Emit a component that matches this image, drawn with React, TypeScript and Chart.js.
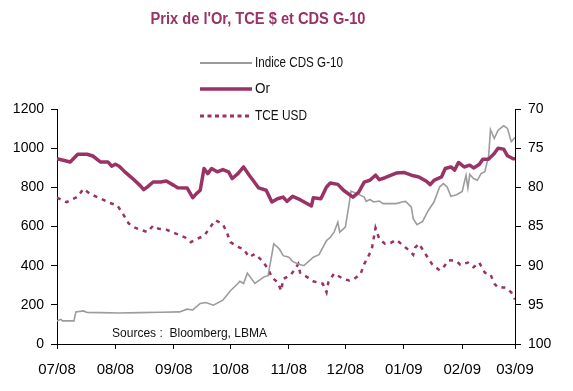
import React, { useEffect, useRef } from 'react';
import { Chart, registerables } from 'chart.js';

Chart.register(...registerables);

// ---- Data ----
const monthDays = [0, 31, 62, 92, 123, 153, 184, 215, 243];
const monthLabels = ['07/08', '08/08', '09/08', '10/08', '11/08', '12/08', '01/09', '02/09', '03/09'];

const titleText = "Prix de l'Or, TCE $ et CDS G-10";
const sourceText = 'Sources :  Bloomberg, LBMA';
const seriesNames = ['Indice CDS G-10', 'Or', 'TCE USD'];

// Or (gold price, left axis), x = days since 1 July 2008
const orDays = [0, 7, 11, 16, 19, 23, 27, 29, 31, 33, 36, 40, 44, 46, 48, 51, 55, 58, 62, 64, 69, 72, 74, 76, 78, 80, 82, 85, 88, 91, 93, 96, 99, 102, 104, 107, 111, 114, 117, 120, 122, 125, 129, 135, 136, 140, 143, 145, 149, 152, 157, 160, 163, 166, 169, 171, 174, 180, 184, 188, 192, 196, 198, 200, 204, 206, 209, 211, 213, 216, 219, 221, 224, 226, 229, 232, 234, 237, 239, 242, 243];
const orValues = [946, 929, 969, 969, 960, 930, 930, 908, 918, 908, 879, 846, 810, 788, 802, 827, 827, 832, 810, 798, 797, 747, 768, 785, 896, 870, 896, 879, 891, 879, 845, 870, 904, 862, 836, 797, 785, 725, 742, 750, 728, 754, 737, 705, 747, 742, 802, 822, 815, 785, 750, 774, 827, 836, 862, 839, 849, 873, 876, 862, 853, 831, 814, 836, 853, 896, 904, 888, 927, 904, 913, 899, 917, 944, 944, 973, 1000, 995, 961, 946, 946];

// Indice CDS G-10 (left axis)
const cdsDays = [0, 2, 3, 9, 10, 14, 16, 23, 33, 44, 55, 65, 69, 72, 76, 79, 83, 88, 92, 96, 97, 99, 101, 105, 110, 112, 115, 118, 120, 123, 125, 128, 131, 136, 139, 143, 145, 147, 149, 150, 153, 155, 156, 160, 163, 164, 166, 168, 171, 173, 180, 183, 185, 188, 189, 191, 194, 197, 200, 203, 205, 207, 209, 212, 215, 217, 218, 219, 221, 223, 225, 227, 229, 230, 232, 234, 237, 239, 241, 243];
const cdsValues = [118, 126, 118, 118, 164, 169, 161, 160, 158, 160, 162, 164, 178, 174, 207, 212, 198, 224, 272, 309, 320, 309, 362, 309, 344, 349, 511, 485, 451, 443, 422, 409, 400, 443, 456, 528, 545, 571, 622, 571, 597, 717, 781, 764, 750, 728, 738, 725, 730, 717, 717, 725, 728, 699, 640, 609, 626, 682, 725, 802, 819, 802, 754, 762, 779, 862, 797, 866, 845, 836, 870, 880, 960, 1095, 1049, 1092, 1114, 1101, 1033, 1054];

// TCE USD (right axis, reversed)
const tceDays = [0, 5, 11, 14, 18, 23, 28, 32, 35, 38, 40, 44, 48, 51, 54, 58, 63, 68, 71, 74, 78, 81, 84, 88, 90, 92, 96, 99, 102, 105, 109, 112, 114, 117, 119, 120, 124, 128, 129, 133, 136, 141, 143, 144, 147, 152, 155, 157, 161, 163, 165, 167, 169, 171, 174, 177, 180, 183, 187, 189, 190, 192, 196, 199, 203, 205, 208, 212, 214, 218, 221, 224, 227, 230, 232, 234, 238, 241, 243];
const tceValues = [81.3, 81.9, 81.2, 80.2, 80.9, 81.4, 82.0, 82.3, 83.4, 84.6, 85.0, 85.4, 85.7, 84.9, 85.3, 85.4, 85.9, 86.4, 87.0, 86.6, 86.2, 85.2, 84.2, 84.7, 85.7, 87.0, 87.6, 87.9, 88.9, 88.5, 89.4, 90.4, 91.5, 92.1, 93.2, 91.7, 91.2, 89.8, 90.9, 91.5, 92.0, 92.3, 93.4, 92.1, 91.0, 91.7, 91.9, 91.8, 91.1, 89.8, 88.9, 87.9, 85.2, 86.6, 87.2, 87.1, 86.7, 87.3, 88.1, 88.6, 87.7, 87.2, 88.7, 89.8, 90.6, 90.2, 89.3, 89.4, 89.9, 89.6, 90.2, 89.6, 90.9, 91.1, 92.3, 92.8, 92.8, 93.4, 94.3];

// ---- Styles ----
const PLUM = '#993366';
const GREY = '#9c9c9c';
const REG = "'Liberation Sans', Arial, sans-serif";

const W = 573;
const H = 391;
const AREA = { left: 57, right: 515, top: 109, bottom: 344 };

const zip = (xs: number[], ys: number[]) => xs.map((x, i) => ({ x, y: ys[i] }));

// draw text horizontally condensed to a target width (narrow font look)
function narrowText(ctx: CanvasRenderingContext2D, text: string, x: number, y: number, targetW: number, align: 'left' | 'center') {
  const w = ctx.measureText(text).width;
  const sx = Math.min(1, targetW / w);
  ctx.save();
  ctx.translate(x, y);
  ctx.scale(sx, 1);
  ctx.textAlign = align;
  ctx.fillText(text, 0, 0);
  ctx.restore();
}

const overlayPlugin = {
  id: 'overlay',
  afterDraw(chart: any) {
    const ctx = chart.ctx as CanvasRenderingContext2D;
    ctx.save();
    ctx.textBaseline = 'middle';
    // title
    ctx.fillStyle = PLUM;
    ctx.font = `bold 16px ${REG}`;
    narrowText(ctx, titleText, 258, 20, 215, 'center');

    // legend
    const rows = [
      { label: seriesNames[0], color: GREY, width: 2, dash: [] as number[], y: 63, tw: 88 },
      { label: seriesNames[1], color: PLUM, width: 3.5, dash: [] as number[], y: 89, tw: 15 },
      { label: seriesNames[2], color: PLUM, width: 3, dash: [4, 3.5], y: 116, tw: 52 },
    ];
    rows.forEach((r) => {
      ctx.beginPath();
      ctx.strokeStyle = r.color;
      ctx.lineWidth = r.width;
      ctx.setLineDash(r.dash);
      ctx.moveTo(200, r.y);
      ctx.lineTo(252, r.y);
      ctx.stroke();
      ctx.setLineDash([]);
      ctx.fillStyle = '#111';
      ctx.font = `14px ${REG}`;
      narrowText(ctx, r.label, 255, r.y, r.tw, 'left');
    });

    // sources
    ctx.fillStyle = '#111';
    ctx.font = `13px ${REG}`;
    narrowText(ctx, sourceText, 112, 333, 155, 'left');
    ctx.restore();
  },
};

export default function App() {
  const ref = useRef<HTMLCanvasElement | null>(null);

  useEffect(() => {
    if (!ref.current) return;
    const chart = new Chart(ref.current, {
      type: 'line',
      data: {
        datasets: [
          {
            label: seriesNames[2],
            data: zip(tceDays, tceValues),
            yAxisID: 'yR',
            borderColor: PLUM,
            borderWidth: 2.5,
            borderDash: [4, 5],
            pointRadius: 0,
            tension: 0,
            order: 3,
          },
          {
            label: seriesNames[0],
            data: zip(cdsDays, cdsValues),
            yAxisID: 'yL',
            borderColor: GREY,
            borderWidth: 1.6,
            pointRadius: 0,
            tension: 0,
            order: 2,
          },
          {
            label: seriesNames[1],
            data: zip(orDays, orValues),
            yAxisID: 'yL',
            borderColor: PLUM,
            borderWidth: 3.5,
            pointRadius: 0,
            tension: 0,
            borderJoinStyle: 'round',
            order: 1,
          },
        ],
      },
      options: {
        responsive: false,
        animation: false,
        devicePixelRatio: 1,
        layout: { padding: { top: AREA.top, left: 0, right: 0, bottom: 0 } },
        plugins: {
          legend: { display: false },
          title: { display: false },
          tooltip: { enabled: false },
        },
        scales: {
          x: {
            type: 'linear',
            min: 0,
            max: 243,
            afterBuildTicks: (scale: any) => {
              scale.ticks = monthDays.map((v) => ({ value: v }));
            },
            afterFit: (scale: any) => {
              scale.height = H - AREA.bottom;
            },
            ticks: {
              autoSkip: false,
              maxRotation: 0,
              color: '#000',
              font: { family: REG, size: 15 },
              padding: 12,
              callback: (v: any) => {
                const i = monthDays.indexOf(Number(v));
                return i >= 0 ? monthLabels[i] : '';
              },
            },
            grid: { drawOnChartArea: false, color: '#000', tickLength: 5 },
            border: { color: '#000', width: 1 },
          },
          yL: {
            type: 'linear',
            position: 'left',
            min: 0,
            max: 1200,
            afterFit: (scale: any) => {
              scale.width = AREA.left;
            },
            ticks: {
              stepSize: 200,
              color: '#000',
              font: { family: REG, size: 14 },
              padding: 7,
              callback: (v: any) => String(v),
            },
            grid: { drawOnChartArea: false, color: '#000', tickLength: 6 },
            border: { color: '#000', width: 1 },
          },
          yR: {
            type: 'linear',
            position: 'right',
            reverse: true,
            min: 70,
            max: 100,
            afterFit: (scale: any) => {
              scale.width = W - AREA.right;
            },
            ticks: {
              stepSize: 5,
              color: '#000',
              font: { family: REG, size: 14 },
              padding: 7,
              callback: (v: any) => String(v),
            },
            grid: { drawOnChartArea: false, color: '#000', tickLength: 6 },
            border: { color: '#000', width: 1 },
          },
        },
      },
      plugins: [overlayPlugin],
    } as any);
    return () => chart.destroy();
  }, []);

  return (
    <div style={{ position: 'absolute', left: 0, top: 0, width: W, height: H, background: '#fff' }}>
      <canvas ref={ref} width={W} height={H} style={{ display: 'block', width: W, height: H }} />
    </div>
  );
}
